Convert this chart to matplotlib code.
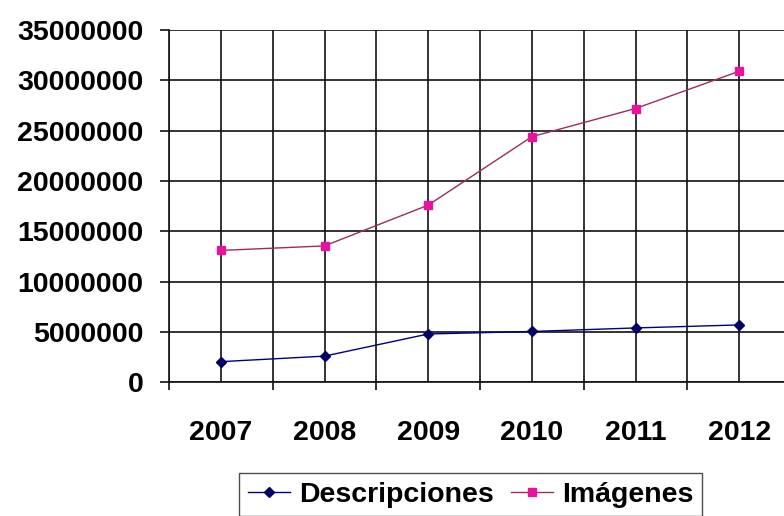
import matplotlib
matplotlib.use("Agg")
import matplotlib.pyplot as plt
from matplotlib.ticker import FixedLocator, StrMethodFormatter

plt.rcParams["font.family"] = ["Liberation Sans", "DejaVu Sans"]
plt.rcParams["font.weight"] = "bold"

# data
years = ["2007", "2008", "2009", "2010", "2011", "2012"]
descripciones = [2050000, 2600000, 4800000, 5050000, 5400000, 5700000]
imagenes = [13100000, 13550000, 17600000, 24400000, 27200000, 30900000]
y_ticks = [0, 5000000, 10000000, 15000000, 20000000, 25000000, 30000000, 35000000]

FONT_SIZE = 20.5

fig = plt.figure(figsize=(7.84, 5.16), dpi=100)
ax = fig.add_axes([169 / 784, 133.7 / 516, 622 / 784, 352.3 / 516])

x = list(range(len(years)))
line_d, = ax.plot(x, descripciones, color="#000080", linewidth=1.0,
                  marker="D", markersize=5, markerfacecolor="#000066",
                  markeredgecolor="#000066", zorder=4, clip_on=False,
                  label="Descripciones")
line_i, = ax.plot(x, imagenes, color="#9E2A60", linewidth=1.0,
                  marker="s", markersize=6, markerfacecolor="#EE0FA0",
                  markeredgecolor="#E0189A", zorder=4, clip_on=False,
                  label="Imágenes")

ax.set_xlim(-0.5, len(years) - 0.5)
ax.set_ylim(0, 35000000)

# boundaries carry the outward ticks, centres carry the labels
ax.xaxis.set_major_locator(FixedLocator([i - 0.5 for i in range(len(years) + 1)]))
ax.xaxis.set_minor_locator(FixedLocator(x))
ax.set_xticklabels([], minor=False)
ax.set_xticklabels(years, minor=True)
ax.tick_params(axis="x", which="major", direction="out", length=6,
               width=1.2, color="#111111")
ax.tick_params(axis="x", which="minor", length=0, pad=27, labelsize=FONT_SIZE)

ax.yaxis.set_major_locator(FixedLocator(y_ticks))
ax.yaxis.set_major_formatter(StrMethodFormatter("{x:.0f}"))
ax.tick_params(axis="y", direction="out", length=6.5, width=1.2,
               color="#111111", pad=12, labelsize=FONT_SIZE)

for label in ax.get_xticklabels(minor=True) + ax.get_yticklabels():
    label.set_fontweight("bold")

ax.grid(True, axis="y", color="#111111", linewidth=1.2)
ax.grid(True, axis="x", which="both", color="#111111", linewidth=1.2)
ax.set_axisbelow(True)

for side in ("top", "right"):
    ax.spines[side].set_visible(False)
for side in ("left", "bottom"):
    ax.spines[side].set_color("#111111")
    ax.spines[side].set_linewidth(1.2)

legend = fig.legend(handles=[line_d, line_i], loc="upper left",
                    bbox_to_anchor=(239 / 784, 1 - 473 / 516), ncol=2,
                    frameon=True, fancybox=False, fontsize=FONT_SIZE,
                    handlelength=1.5, handletextpad=0.3, columnspacing=0.6,
                    borderpad=0.3, borderaxespad=0)
legend.get_frame().set_edgecolor("#222222")
legend.get_frame().set_linewidth(1.0)
for text in legend.get_texts():
    text.set_fontweight("bold")

fig.savefig("out.png", dpi=100, facecolor="white")
